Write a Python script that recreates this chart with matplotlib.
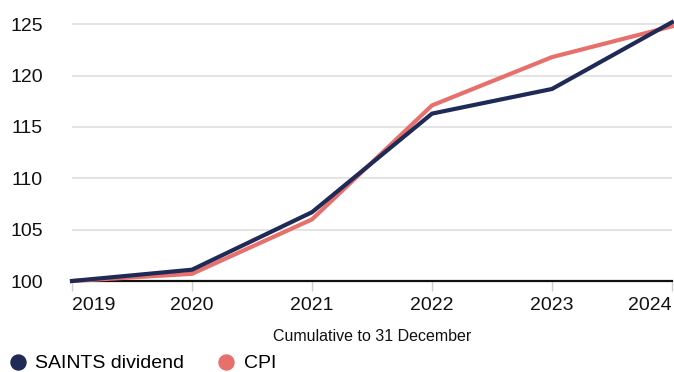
import matplotlib.pyplot as plt
from matplotlib.lines import Line2D

plt.rcParams['font.family'] = ['Liberation Sans', 'DejaVu Sans']

years = [2019, 2020, 2021, 2022, 2023, 2024]
saints_dividend = [100.0, 101.1, 106.7, 116.3, 118.7, 125.2]
cpi = [100.0, 100.7, 106.0, 117.1, 121.8, 124.8]
y_ticks = [100, 105, 110, 115, 120, 125]

navy = '#1f2a56'
salmon = '#e8706c'

W, H = 674, 372
fig = plt.figure(figsize=(W / 100, H / 100), dpi=100)
ax = fig.add_axes([72 / W, (H - 281) / H, 600 / W, (281 - 14) / H])

ax.plot(years, cpi, color=salmon, lw=3.0, solid_joinstyle='miter', clip_on=False, zorder=3)
ax.plot(years, saints_dividend, color=navy, lw=3.0, solid_joinstyle='miter', clip_on=False, zorder=4)

ax.set_xlim(2019, 2024)
ax.set_ylim(100, 126)
ax.set_yticks(y_ticks)
ax.set_xticks(years)
ax.set_xticklabels([str(y) for y in years])

for s in ['top', 'right', 'left']:
    ax.spines[s].set_visible(False)
ax.spines['bottom'].set_color('#111111')
ax.spines['bottom'].set_linewidth(1.6)
ax.spines['bottom'].set_zorder(2)

ax.grid(axis='y', color='#e2e2e2', lw=1.3, zorder=0)
ax.set_axisbelow(True)

ax.tick_params(axis='y', length=0, pad=21, labelsize=14, labelcolor='#111111')
ax.tick_params(axis='x', length=7, width=1, color='#cfcfcf', pad=4.5, labelsize=14,
               labelcolor='#111111')
xl = ax.get_xticklabels()
xl[0].set_ha('left')
xl[-1].set_ha('right')

ax.set_xlabel('Cumulative to 31 December', fontsize=11.5, color='#111111', labelpad=10.5)

# legend entries placed one by one
entries = [('SAINTS dividend', navy, 7.8), ('CPI', salmon, 216.5)]
for label, col, x0 in entries:
    h = Line2D([], [], ls='none', marker='o', ms=10.8, color=col, label=label)
    fig.legend(handles=[h], loc='center left', bbox_to_anchor=(x0 / W, (H - 363.5) / H),
               frameon=False, fontsize=14, handletextpad=0.42, handlelength=1.0,
               borderpad=0, borderaxespad=0)

fig.savefig('out.png', dpi=100)
